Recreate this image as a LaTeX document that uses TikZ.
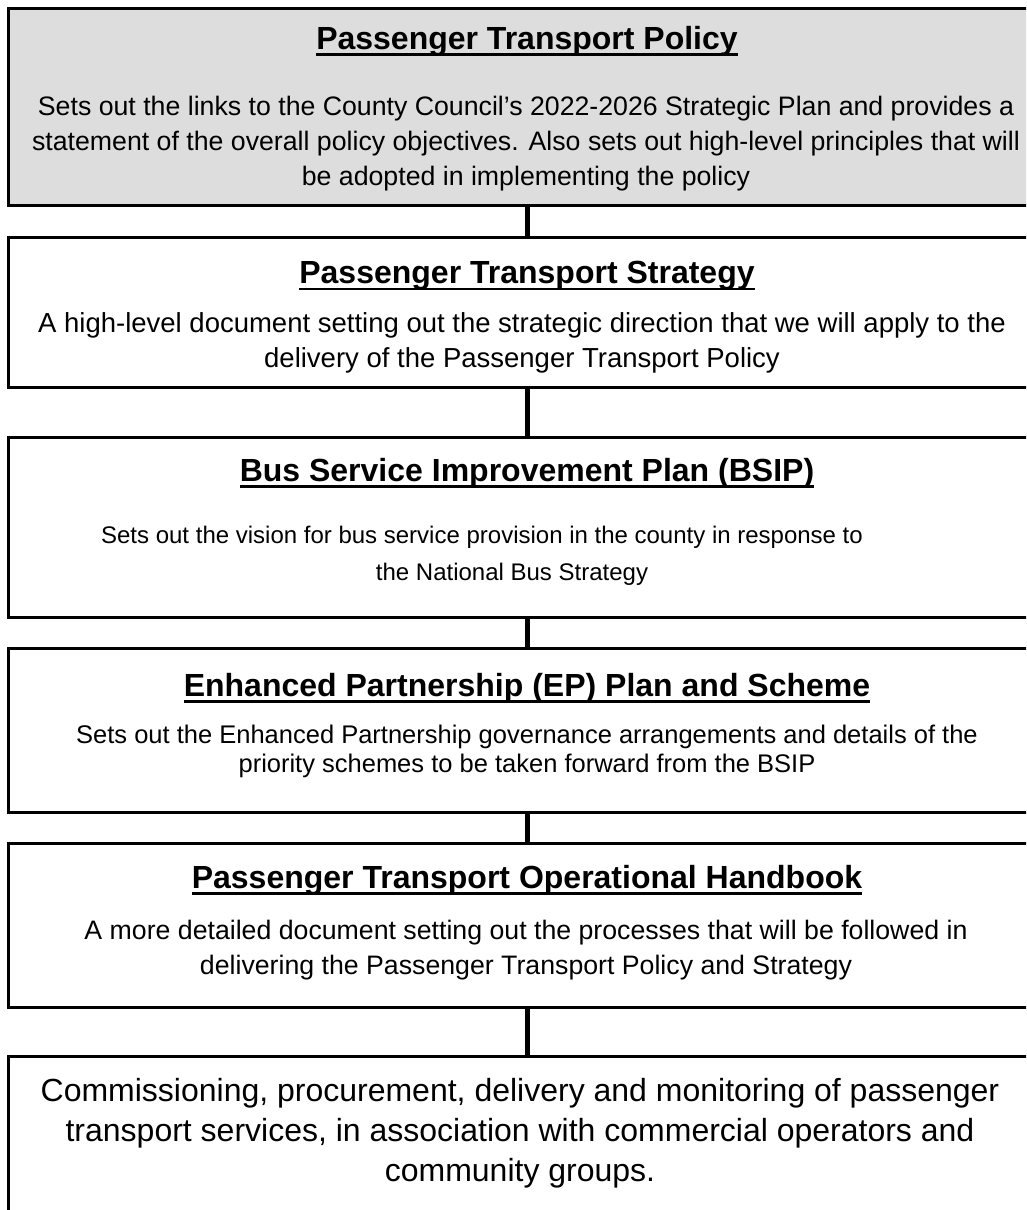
\documentclass[tikz,border=0pt]{standalone}
\usepackage{fontspec}
\setmainfont{Liberation Sans}
\newcommand\ulhead[1]{\setbox0\hbox{#1}\rlap{\rule[-6.5pt]{\wd0}{2.7pt}}\box0}
\begin{document}
\begin{tikzpicture}[x=1pt,y=-1pt,
  panel/.style={draw, line width=3pt, minimum width=1038pt, inner sep=0pt},
  head/.style={font=\fontsize{32}{38}\selectfont\bfseries},
  body/.style={font=\fontsize{26.7}{35}\selectfont, align=center},
  link/.style={line width=5pt}]
\useasboundingbox (0,0) rectangle (1026,1210);
\clip (0,0) rectangle (1026,1210);
\node[panel, fill={rgb,255:red,221;green,221;blue,221}, minimum height=197pt] (pol) at (527,106.5){};
\node[panel, minimum height=150pt] (str) at (527,312){};
\node[panel, minimum height=180pt] (bsip) at (527,527){};
\node[panel, minimum height=164pt] (ep) at (527,730){};
\node[panel, minimum height=164pt] (hb) at (527,925){};
\node[panel, minimum height=190pt] (ops) at (527,1151){};
\draw[link](pol) -- (str);
\draw[link](str) -- (bsip);
\draw[link](bsip) -- (ep);
\draw[link](ep) -- (hb);
\draw[link](hb) -- (ops);
\node[head] (polh) at (527,41){\ulhead{Passenger Transport Policy}};
\node[body] (polt) at (526,144){Sets out the links to the County Council’s 2022-2026 Strategic Plan and provides a\\statement of the overall policy objectives. Also sets out high-level principles that will\\be adopted in implementing the policy};
\node[head] (strh) at (527,276){\ulhead{Passenger Transport Strategy}};
\node[body, font=\fontsize{27.5}{35}\selectfont] (strt) at (522,343){A high-level document setting out the strategic direction that we will apply to the\\delivery of the Passenger Transport Policy};
\node[head] (bsiph) at (527,473){\ulhead{Bus Service Improvement Plan (BSIP)}};
\node[body, font=\fontsize{24}{37}\selectfont] (bsipt) at (512,556){Sets out the vision for bus service provision in the county in response to\hspace*{60pt}\\the National Bus Strategy};
\node[head] (eph) at (527,688){\ulhead{Enhanced Partnership (EP) Plan and Scheme}};
\node[body, font=\fontsize{25.5}{29}\selectfont] (ept) at (527,751){Sets out the Enhanced Partnership governance arrangements and details of the\\priority schemes to be taken forward from the BSIP};
\node[head] (hbh) at (527,880){\ulhead{Passenger Transport Operational Handbook}};
\node[body] (hbt) at (526,950){A more detailed document setting out the processes that will be followed in\\delivering the Passenger Transport Policy and Strategy};
\node[body, font=\fontsize{32}{40}\selectfont] (opst) at (520,1133){Commissioning, procurement, delivery and monitoring of passenger\\transport services, in association with commercial operators and\\community groups.};
\end{tikzpicture}
\end{document}
